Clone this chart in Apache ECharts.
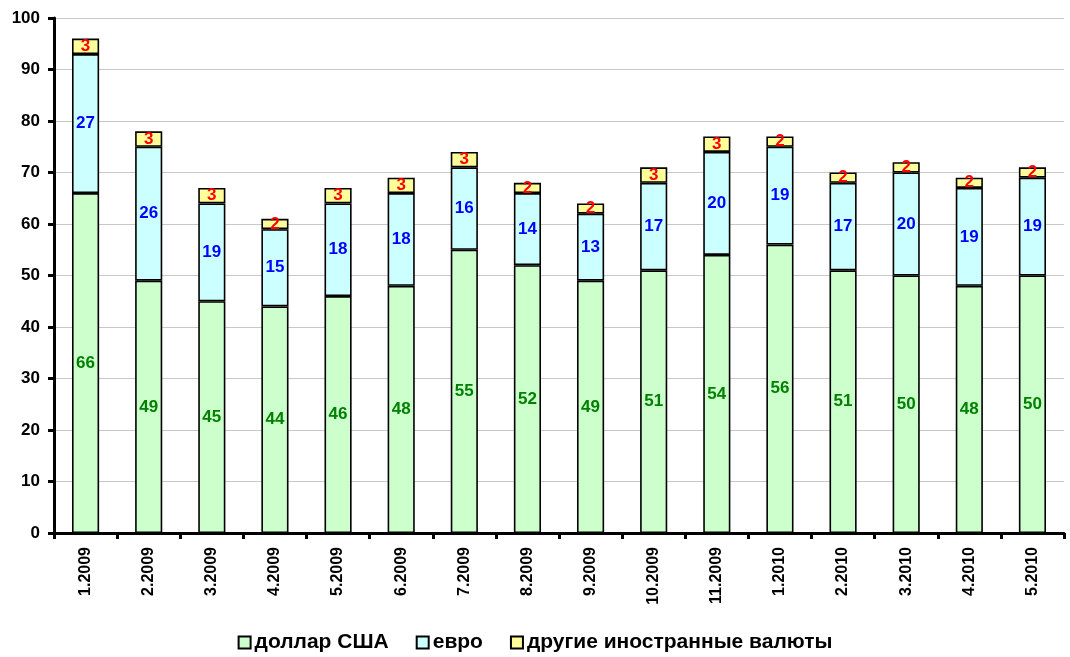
<!DOCTYPE html>
<html>
<head>
<meta charset="utf-8">
<script src="https://cdn.jsdelivr.net/npm/echarts@6/dist/echarts.min.js"></script>
<style>
  html, body { margin: 0; padding: 0; background: #fff; }
  #chart { width: 1070px; height: 657px; }
</style>
</head>
<body>
<div id="chart"></div>
<script>
// Months (month.year)
const months = ['1.2009', '2.2009', '3.2009', '4.2009', '5.2009', '6.2009', '7.2009', '8.2009',
  '9.2009', '10.2009', '11.2009', '1.2010', '2.2010', '3.2010', '4.2010', '5.2010'];

// Currency shares, stacked
const usd = [66, 49, 45, 44, 46, 48, 55, 52, 49, 51, 54, 56, 51, 50, 48, 50];
const eur = [27, 26, 19, 15, 18, 18, 16, 14, 13, 17, 20, 19, 17, 20, 19, 19];
const other = [3, 3, 3, 2, 3, 3, 3, 2, 2, 3, 3, 2, 2, 2, 2, 2];

const yTicks = [0, 10, 20, 30, 40, 50, 60, 70, 80, 90, 100];

const font = '"Liberation Sans", Arial, sans-serif';

function barSeries(name, data, fill, labelColor) {
  return {
    name: name,
    type: 'bar',
    stack: 'total',
    data: data,
    barWidth: '43%',
    itemStyle: { color: fill, borderColor: '#000', borderWidth: 1.6 },
    label: {
      show: true,
      position: 'inside',
      color: labelColor,
      fontFamily: font,
      fontWeight: 'bold',
      fontSize: 17
    },
    emphasis: { disabled: true }
  };
}

const chart = echarts.init(document.getElementById('chart'));
chart.setOption({
  animation: false,
  backgroundColor: '#fff',
  grid: { left: 54, right: 6, top: 18, bottom: 124, containLabel: false },
  xAxis: {
    type: 'category',
    data: months,
    axisLine: { lineStyle: { color: '#000', width: 3 } },
    axisTick: { show: true, length: 6, lineStyle: { color: '#000', width: 3 } },
    axisLabel: {
      rotate: 90,
      color: '#000',
      fontFamily: font,
      fontWeight: 'bold',
      fontSize: 16,
      margin: 14,
      interval: 0
    }
  },
  yAxis: {
    type: 'value',
    min: yTicks[0],
    max: yTicks[yTicks.length - 1],
    interval: 10,
    axisLine: { show: true, lineStyle: { color: '#000', width: 3 } },
    axisTick: { show: true, length: 6, lineStyle: { color: '#000', width: 3 } },
    axisLabel: {
      color: '#000',
      fontFamily: font,
      fontWeight: 'bold',
      fontSize: 17,
      margin: 14
    },
    splitLine: { lineStyle: { color: '#c8c8c8', width: 1 } }
  },
  legend: {
    top: 627,
    left: 'center',
    itemWidth: 12,
    itemHeight: 12,
    itemGap: 27,
    icon: 'rect',
    textStyle: { color: '#000', fontFamily: font, fontWeight: 'bold', fontSize: 21, padding: [0, 0, 0, -1] },
    data: ['доллар США', 'евро', 'другие иностранные валюты']
  },
  series: [
    barSeries('доллар США', usd, '#CCFFCC', '#008000'),
    barSeries('евро', eur, '#CCFFFF', '#0000FF'),
    barSeries('другие иностранные валюты', other, '#FFFF99', '#FF0000')
  ]
});
</script>
</body>
</html>
